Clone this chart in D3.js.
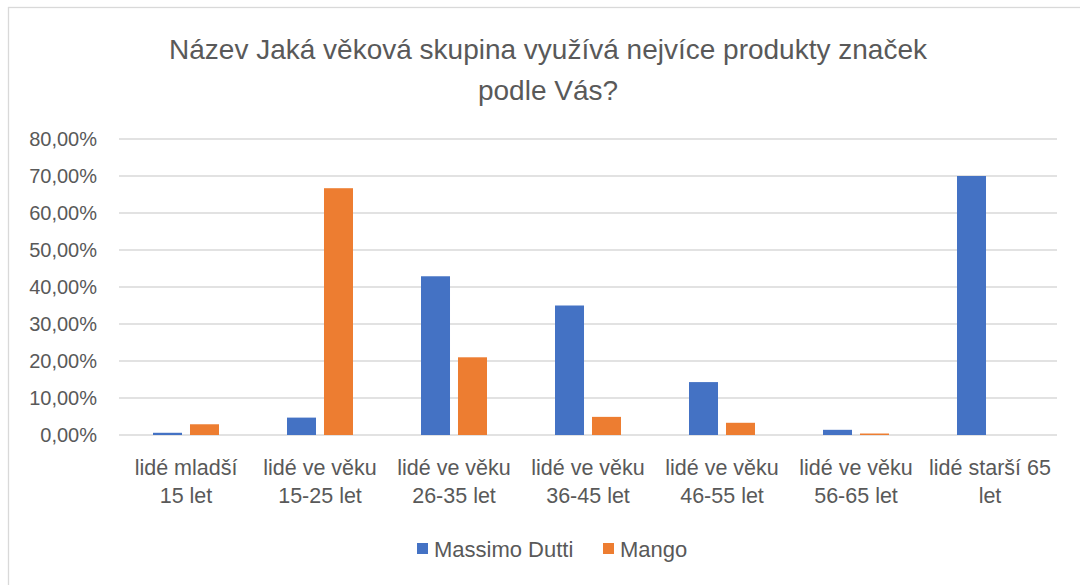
<!DOCTYPE html>
<html>
<head>
<meta charset="utf-8">
<script src="https://cdn.jsdelivr.net/npm/d3@7"></script>
<style>
  body { margin: 0; background: #fff; }
  svg text { font-family: "Liberation Sans", Arial, sans-serif; fill: #595959; }
</style>
</head>
<body>
<div id="chart"></div>
<script>
// chart data
var categories = [
  ["lidé mladší", "15 let"],
  ["lidé ve věku", "15-25 let"],
  ["lidé ve věku", "26-35 let"],
  ["lidé ve věku", "36-45 let"],
  ["lidé ve věku", "46-55 let"],
  ["lidé ve věku", "56-65 let"],
  ["lidé starší 65", "let"]
];
var seriesNames = ["Massimo Dutti", "Mango"];
var massimoDutti = [0.6, 4.7, 42.9, 35.0, 14.3, 1.4, 70.0];
var mango = [2.9, 66.7, 21.0, 4.9, 3.3, 0.4, 0.0];
var yTicks = [0, 10, 20, 30, 40, 50, 60, 70, 80];
var titleLines = ["Název Jaká věková skupina využívá nejvíce produkty značek", "podle Vás?"];
var colors = ["#4472c4", "#ed7d31"];

var width = 1080, height = 585;
var margin = {left: 119, right: 23, top: 139, bottom: 150};

var svg = d3.select("#chart").append("svg")
  .attr("width", width)
  .attr("height", height);

// chart area border (only top and left visible in the crop)
svg.append("rect")
  .attr("x", 8.5).attr("y", 7.5)
  .attr("width", 1200).attr("height", 700)
  .attr("fill", "none")
  .attr("stroke", "#d9d9d9")
  .attr("stroke-width", 1.3);

// title
svg.append("g").selectAll("text")
  .data(titleLines)
  .join("text")
  .attr("x", 548)
  .attr("y", function(d, i) { return 59 + i * 41; })
  .attr("text-anchor", "middle")
  .style("font-size", "28px")
  .text(function(d) { return d; });

var x0 = d3.scaleBand()
  .domain(d3.range(categories.length))
  .range([margin.left, width - margin.right]);

var x1 = d3.scaleBand()
  .domain(seriesNames)
  .range([0, 66])
  .paddingInner(0.216);

var y = d3.scaleLinear()
  .domain([0, 80])
  .range([height - margin.bottom, margin.top]);

// gridlines
svg.append("g").selectAll("line")
  .data(yTicks)
  .join("line")
  .attr("x1", margin.left)
  .attr("x2", width - margin.right)
  .attr("y1", function(d) { return y(d); })
  .attr("y2", function(d) { return y(d); })
  .attr("stroke", "#d9d9d9")
  .attr("stroke-width", 1.3);

// y axis labels
var fmt = function(d) { return d.toFixed(2).replace(".", ",") + "%"; };
svg.append("g").selectAll("text")
  .data(yTicks)
  .join("text")
  .attr("x", 97)
  .attr("y", function(d) { return y(d); })
  .attr("dy", "0.35em")
  .attr("text-anchor", "end")
  .style("font-size", "20px")
  .text(fmt);

// bars
var series = [massimoDutti, mango];
var groups = svg.append("g").selectAll("g")
  .data(series)
  .join("g")
  .attr("fill", function(d, i) { return colors[i]; });

groups.selectAll("rect")
  .data(function(d, i) { return d.map(function(v, j) { return {v: v, cat: j, s: seriesNames[i]}; }); })
  .join("rect")
  .attr("x", function(d) { return x0(d.cat) + x0.bandwidth() / 2 - 33 + x1(d.s); })
  .attr("y", function(d) { return y(d.v); })
  .attr("width", x1.bandwidth())
  .attr("height", function(d) { return y(0) - y(d.v); });

// category labels
var catG = svg.append("g").selectAll("text")
  .data(categories)
  .join("text")
  .attr("text-anchor", "middle")
  .attr("transform", function(d, i) { return "translate(" + (x0(i) + x0.bandwidth() / 2) + ",0)"; })
  .style("font-size", "21.5px");

catG.selectAll("tspan")
  .data(function(d) { return d; })
  .join("tspan")
  .attr("x", 0)
  .attr("y", function(d, i) { return 475 + i * 28; })
  .text(function(d) { return d; });

// legend
var legend = svg.append("g").selectAll("g")
  .data(seriesNames)
  .join("g")
  .attr("transform", function(d, i) { return "translate(" + [417, 603][i] + ",549)"; });

legend.append("rect")
  .attr("x", 0).attr("y", -6)
  .attr("width", 11).attr("height", 11)
  .attr("fill", function(d, i) { return colors[i]; });

legend.append("text")
  .attr("x", 17)
  .attr("dy", "0.35em")
  .style("font-size", "22px")
  .text(function(d) { return d; });
</script>
</body>
</html>
